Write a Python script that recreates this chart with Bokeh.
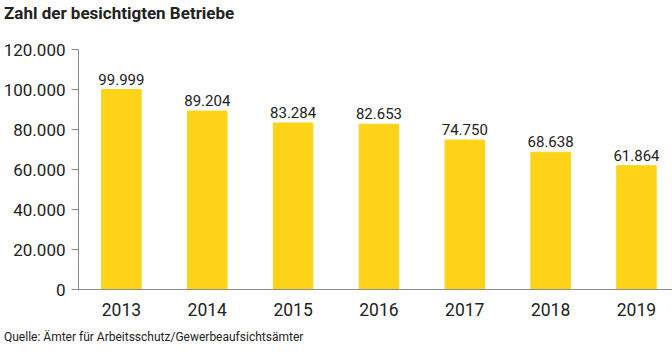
from bokeh.plotting import figure
from bokeh.models import ColumnDataSource, Range1d, FixedTicker, Div
from bokeh.layouts import column
from bokeh.core.properties import value
from bokeh.embed import file_html
from bokeh.resources import INLINE

years = ["2013", "2014", "2015", "2016", "2017", "2018", "2019"]
counts = [99999, 89204, 83284, 82653, 74750, 68638, 61864]
y_ticks = [0, 20000, 40000, 60000, 80000, 100000, 120000]
y_tick_labels = ["0", "20.000", "40.000", "60.000", "80.000", "100.000", "120.000"]
title_text = "Zahl der besichtigten Betriebe"
source_text = "Quelle: Ämter für Arbeitsschutz/Gewerbeaufsichtsämter"

FONT = "Roboto"
TXT = "#222222"
BAR = "#FED318"
AX = "#8a8a8a"

xs = list(range(len(years)))
labels = ["{:,}".format(v).replace(",", ".") for v in counts]
src = ColumnDataSource(dict(x=xs, top=counts, lab=labels))

p = figure(width=672, height=300, output_backend="svg", toolbar_location=None,
           x_range=Range1d(-0.5, 6.42), y_range=Range1d(0, 120000),
           min_border_left=77, min_border_right=0, min_border_top=22,
           min_border_bottom=38, margin=(0, 0, 0, 0))
p.outline_line_color = None
p.grid.grid_line_color = None
p.background_fill_color = "white"
p.border_fill_color = "white"

p.vbar(x="x", top="top", width=0.46, color=BAR, source=src)
p.text(x="x", y="top", text="lab", source=src, text_align="center",
       text_baseline="bottom", y_offset=-5, text_font=value(FONT),
       text_font_size="15px", text_color=TXT)

# y axis
ya = p.yaxis[0]
ya.ticker = FixedTicker(ticks=y_ticks)
ya.major_label_overrides = {t: l for t, l in zip(y_ticks, y_tick_labels)}
ya.axis_line_color = AX
ya.major_tick_line_color = AX
ya.major_tick_out = 7
ya.major_tick_in = 0
ya.minor_tick_line_color = None
ya.major_label_standoff = 6
ya.major_label_text_font = FONT
ya.major_label_text_font_size = "17px"
ya.major_label_text_color = TXT

# x axis
xa = p.xaxis[0]
xa.ticker = FixedTicker(ticks=xs)
xa.major_label_overrides = {i: y for i, y in zip(xs, years)}
xa.axis_line_color = AX
xa.major_tick_line_color = None
xa.minor_tick_line_color = None
xa.major_label_standoff = 7
xa.major_label_text_font = FONT
xa.major_label_text_font_size = "17.5px"
xa.major_label_text_color = TXT

title_div = Div(text=title_text, width=672, height=27, margin=(0, 0, 0, 0),
                styles={"font-family": FONT, "font-size": "17px", "font-weight": "bold",
                        "color": TXT, "padding-left": "4px", "padding-top": "3px",
                        "line-height": "20px", "box-sizing": "border-box"})
source_div = Div(text=source_text, width=672, height=27, margin=(0, 0, 0, 0),
                 styles={"font-family": FONT, "font-size": "12px",
                         "color": TXT, "padding-left": "4px", "padding-top": "3px",
                         "line-height": "14px", "box-sizing": "border-box"})

layout = column(title_div, p, source_div, spacing=0, margin=(0, 0, 0, 0))

open("out.html", "w").write(file_html(layout, INLINE))
